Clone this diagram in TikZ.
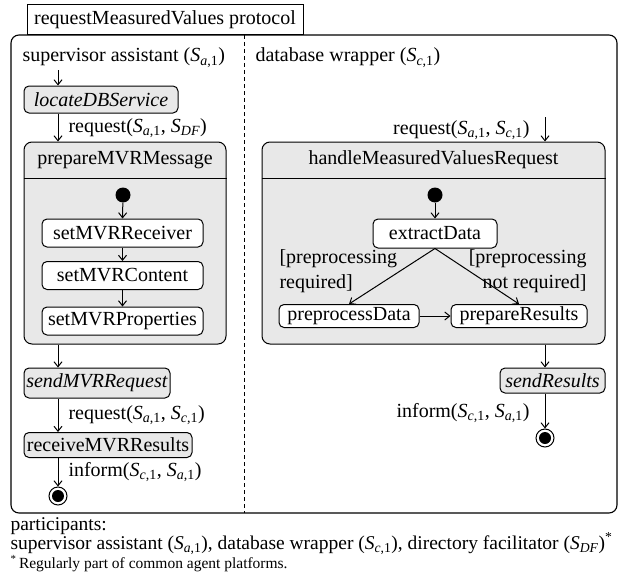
\documentclass[tikz,border=0pt]{standalone}
\usepackage{fontspec}
\setmainfont{Liberation Serif}
\usetikzlibrary{arrows.meta}
\newcommand\Sa{\textit{S}\textsubscript{\textit{a},1}}
\newcommand\Sc{\textit{S}\textsubscript{\textit{c},1}}
\newcommand\Sdf{\textit{S}\textsubscript{\textit{DF}}}
\definecolor{boxgray}{HTML}{E8E8E8}
\begin{document}
\begin{tikzpicture}[x=1pt,y=-1pt,
  font=\fontsize{20}{25}\selectfont,
  line width=1pt,
  arr/.style={-{Straight Barb[length=5pt,width=8pt]}},
  act/.style={draw,rounded corners=5pt,fill=boxgray,inner sep=0pt,minimum height=#1},
  act/.default=27pt,
  sub/.style={draw,rounded corners=5pt,fill=white,inner sep=0pt,minimum height=#1},
  sub/.default=28pt,
  cont/.style={draw,rounded corners=8pt,fill=boxgray,inner sep=0pt},
  lbl/.style={inner sep=0pt},
  initdot/.style={circle,fill=black,inner sep=0pt,minimum size=15pt},
  finaldot/.style={circle,draw,fill=white,inner sep=0pt,minimum size=18pt,
     path picture={\fill[black] (path picture bounding box.center) circle (6pt);}},
]
\useasboundingbox (0,0) rectangle (618,586);
% frame
\draw[line width=1.1pt,rounded corners=8pt] (11,35) rectangle (617,513);
\node[draw,fill=white,inner sep=0pt,minimum width=276pt,minimum height=30pt] (title) at (165,20) {requestMeasuredValues protocol};
\draw[dashed,dash pattern=on 4pt off 3pt] (244,35) -- (244,513);
\node[lbl,anchor=base west] (laneA) at (22,62) {supervisor assistant (\Sa)};
\node[lbl,anchor=base west] (laneB) at (255,62) {database wrapper (\Sc)};

% left column
\coordinate (colA) at (58,0);
\coordinate (startA) at (58,70);
\node[act,minimum width=154pt] (locate) at (101,99.5) {\textit{locateDBService}};
\node[cont,minimum width=202pt,minimum height=202pt] (prep) at (125,243) {};
\draw (prep.west |- 0,178) -- (prep.east |- 0,178);
\node[lbl] (prepT) at (125,160) {prepareMVRMessage};
\node[initdot] (init1) at (123,195) {};
\node[sub,minimum width=161pt] (recv) at (122.5,233) {setMVRReceiver};
\node[sub,minimum width=161pt] (content) at (122.5,275.5) {setMVRContent};
\node[sub,minimum width=161pt] (props) at (122.5,321) {setMVRProperties};
\node[act=30pt,minimum width=146pt] (send) at (97,383) {\textit{sendMVRRequest}};
\node[act=25pt,minimum width=168pt] (recvRes) at (108,445) {receiveMVRResults};
\node[finaldot] (final1) at (58,496) {};

\draw[arr] (startA) -- (colA |- locate.north);
\draw[arr] (colA |- locate.south) -- (colA |- prep.north);
\node[lbl,anchor=west] (lreq1) at (68,128) {request(\Sa, \Sdf)};
\draw[arr] (init1) -- (recv.north);
\draw[arr] (recv) -- (content);
\draw[arr] (content) -- (props);
\draw[arr] (colA |- prep.south) -- (colA |- send.north);
\draw[arr] (colA |- send.south) -- (colA |- recvRes.north);
\node[lbl,anchor=west] (lreq2) at (68,415) {request(\Sa, \Sc)};
\draw[arr] (colA |- recvRes.south) -- (final1);
\node[lbl,anchor=west] (linf1) at (68,472) {inform(\Sc, \Sa)};

% right column
\coordinate (colB) at (545,0);
\coordinate (startB) at (545,117);
\node[lbl,anchor=east] (lreqB) at (530,130) {request(\Sa, \Sc)};
\node[cont,minimum width=343pt,minimum height=202pt] (handle) at (433.5,243) {};
\draw (handle.west |- 0,178) -- (handle.east |- 0,178);
\node[lbl] (handleT) at (433.5,160) {handleMeasuredValuesRequest};
\node[initdot] (init2) at (435,195) {};
\node[sub=29pt,minimum width=124pt] (extract) at (435,233.5) {extractData};
\node[sub=23pt,minimum width=140pt] (preproc) at (349,316) {preprocessData};
\node[sub=23pt,minimum width=136pt] (prepRes) at (519,316) {prepareResults};
\node[act=25pt,minimum width=105pt] (sendRes) at (552.5,380.5) {\textit{sendResults}};
\node[finaldot] (final2) at (545,438) {};

\draw[arr] (startB) -- (colB |- handle.north);
\draw[arr] (init2) -- (extract.north);
\draw[arr] (extract.south) -- (preproc.north);
\draw[arr] (extract.south) -- (prepRes.north);
\draw[arr] (preproc) -- (prepRes);
\node[lbl,anchor=north west,align=left] (g1) at (279,249) {[preprocessing\\required]};
\node[lbl,anchor=north east,align=right] (g2) at (587,249) {[preprocessing\\not required]};
\draw[arr] (colB |- handle.south) -- (colB |- sendRes.north);
\draw[arr] (colB |- sendRes.south) -- (final2);
\node[lbl,anchor=east] (linfB) at (530,413) {inform(\Sc, \Sa)};

% bottom text
\node[lbl,anchor=base west,font=\fontsize{19.5}{24}\selectfont] (part) at (10,530) {participants:};
\node[lbl,anchor=base west,font=\fontsize{19.5}{24}\selectfont] (partlist) at (10,549) {supervisor assistant (\Sa), database wrapper (\Sc), directory facilitator (\Sdf)\textsuperscript{*}};
\node[lbl,anchor=base west,font=\fontsize{15.5}{18}\selectfont] (foot) at (10,568) {\textsuperscript{*}\,Regularly part of common agent platforms.};
\end{tikzpicture}
\end{document}
